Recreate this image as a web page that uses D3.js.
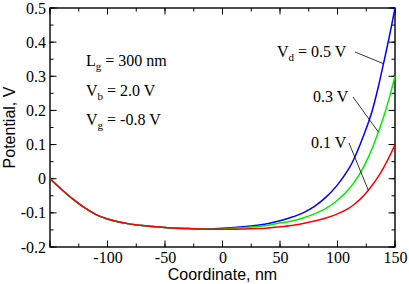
<!DOCTYPE html>
<html lang="en">
<head>
<meta charset="UTF-8">
<title>Potential profile</title>
<script src="https://cdn.jsdelivr.net/npm/d3@7"></script>
<style>
  body { margin: 0; background: #fff; }
  svg text { font-family: "Liberation Serif", "Times New Roman", Times, "DejaVu Serif", serif; }
  svg text.sans { font-family: "Liberation Sans", Arial, Helvetica, sans-serif; }
</style>
</head>
<body>
<div id="chart"></div>
<script>
// coordinate (nm) and potential (V)
const xLeft = [-150, -140, -130, -120, -110, -100, -90, -80, -70, -60, -50, -40, -30, -20]
const yLeft = [0, -0.031, -0.060, -0.085, -0.105, -0.118, -0.127, -0.133, -0.137, -0.140, -0.143, -0.145, -0.146, -0.147]
const xRight = [-10, 0, 10, 20, 30, 40, 50, 60, 70, 80, 90, 100, 110, 115, 120, 125, 130, 135, 140, 145, 150]
const vd01 = [-0.148, -0.148, -0.148, -0.147, -0.146, -0.144, -0.141, -0.137, -0.131, -0.124, -0.115, -0.103, -0.086, -0.074, -0.059, -0.041, -0.020, 0.004, 0.032, 0.064, 0.100]
const vd03 = [-0.148, -0.147, -0.145, -0.143, -0.140, -0.136, -0.130, -0.124, -0.115, -0.103, -0.087, -0.063, -0.030, -0.008, 0.018, 0.050, 0.088, 0.132, 0.180, 0.236, 0.300]
const vd05 = [-0.147, -0.145, -0.143, -0.140, -0.136, -0.131, -0.123, -0.113, -0.100, -0.081, -0.054, -0.018, 0.030, 0.063, 0.103, 0.147, 0.197, 0.262, 0.337, 0.415, 0.500]
const xTicks = [-100, -50, 0, 50, 100, 150]
const yTicks = [-0.2, -0.1, 0, 0.1, 0.2, 0.3, 0.4, 0.5]

const w = 409, h = 284
const m = {left: 50, right: 14, top: 8, bottom: 37}

const svg = d3.select("#chart").append("svg").attr("width", w).attr("height", h)

const x = d3.scaleLinear().domain([-150, 150]).range([m.left, w - m.right])
const y = d3.scaleLinear().domain([-0.2, 0.5]).range([h - m.bottom, m.top])

// inward ticks on all four sides
const minorX = d3.range(-150, 151, 25)
const minorY = d3.range(-0.2, 0.501, 0.05)
function tickLines(g, vals, len, side) {
  g.selectAll(null).data(vals).enter().append("line")
    .attr("stroke", "#000").attr("stroke-width", 1)
    .each(function (v) {
      const s = d3.select(this)
      if (side === "bottom") s.attr("x1", x(v)).attr("x2", x(v)).attr("y1", y.range()[0]).attr("y2", y.range()[0] - len)
      if (side === "top") s.attr("x1", x(v)).attr("x2", x(v)).attr("y1", y.range()[1]).attr("y2", y.range()[1] + len)
      if (side === "left") s.attr("y1", y(v)).attr("y2", y(v)).attr("x1", x.range()[0]).attr("x2", x.range()[0] + len)
      if (side === "right") s.attr("y1", y(v)).attr("y2", y(v)).attr("x1", x.range()[1]).attr("x2", x.range()[1] - len)
    })
}
const tg = svg.append("g")
const majX = d3.range(-150, 151, 50)
const majY = d3.range(-0.2, 0.501, 0.1)
;["bottom", "top"].forEach(s => { tickLines(tg, minorX, 3.5, s); tickLines(tg, majX, 6.5, s) })
;["left", "right"].forEach(s => { tickLines(tg, minorY, 3.5, s); tickLines(tg, majY, 6.5, s) })

// plain hyphen as minus, like the original
const hy = f => d => f(d).replace("\u2212", "-")

// tick labels via axes (tick lines hidden)
const xAxis = svg.append("g").attr("transform", `translate(0,${y.range()[0]})`)
  .call(d3.axisBottom(x).tickValues(xTicks).tickSize(0).tickPadding(5).tickFormat(hy(d3.format("d"))))
const yAxis = svg.append("g").attr("transform", `translate(${m.left},0)`)
  .call(d3.axisLeft(y).tickValues(yTicks).tickSize(0).tickPadding(4)
    .tickFormat(d => d === 0 ? "0" : hy(d3.format(".1f"))(d)))
;[xAxis, yAxis].forEach(a => {
  a.select(".domain").remove()
  a.attr("font-family", null).attr("font-size", null)
  a.selectAll("text").attr("font-size", 16).attr("fill", "#000")
})

// frame
svg.append("rect").attr("x", m.left).attr("y", m.top)
  .attr("width", x.range()[1] - m.left).attr("height", y.range()[0] - m.top)
  .attr("fill", "none").attr("stroke", "#000").attr("stroke-width", 1.4)

// curves
const line = d3.line().x(d => x(d[0])).y(d => y(d[1])).curve(d3.curveCatmullRom.alpha(0.5))
const series = [
  {vals: vd05, color: "#0000ff"},
  {vals: vd03, color: "#00ee00"},
  {vals: vd01, color: "#ff0000"}
]
series.forEach(s => {
  const pts = xLeft.map((v, i) => [v, yLeft[i]]).concat(xRight.map((v, i) => [v, s.vals[i]]))
  svg.append("path").datum(pts).attr("d", line)
    .attr("fill", "none").attr("stroke", s.color).attr("stroke-width", 1.5)
})

// curve labels with leaders
function leader(x1, y1, x2, y2) {
  svg.append("line").attr("x1", x1).attr("y1", y1).attr("x2", x2).attr("y2", y2)
    .attr("stroke", "#000").attr("stroke-width", 0.8)
}
const t1 = svg.append("text").attr("x", 277).attr("y", 57).attr("font-size", 16)
t1.append("tspan").text("V")
t1.append("tspan").attr("font-size", 11).attr("dy", 4).text("d")
t1.append("tspan").attr("dy", -4).text(" = 0.5 V")
leader(355, 52, x(140), y(0.337))
svg.append("text").attr("x", 313).attr("y", 102).attr("font-size", 16).text("0.3 V")
leader(353, 97, x(135.5), y(0.137))
svg.append("text").attr("x", 311).attr("y", 148).attr("font-size", 16).text("0.1 V")
leader(349, 143, x(126.8), y(-0.034))

// parameter block
const params = [["L", "g", " = 300 nm"], ["V", "b", " = 2.0 V"], ["V", "g", " = -0.8 V"]]
params.forEach((p, i) => {
  const t = svg.append("text").attr("x", 86).attr("y", 66 + i * 29.5).attr("font-size", 16)
  t.append("tspan").text(p[0])
  t.append("tspan").attr("font-size", 11).attr("dy", 4).text(p[1])
  t.append("tspan").attr("dy", -4).text(p[2])
})

// axis titles
svg.append("text").attr("class", "sans").attr("x", (m.left + x.range()[1]) / 2).attr("y", 280)
  .attr("text-anchor", "middle").attr("font-size", 16).text("Coordinate, nm")
svg.append("text").attr("class", "sans").attr("transform", `translate(15,${(m.top + y.range()[0]) / 2}) rotate(-90)`)
  .attr("text-anchor", "middle").attr("font-size", 16).text("Potential, V")
</script>
</body>
</html>
